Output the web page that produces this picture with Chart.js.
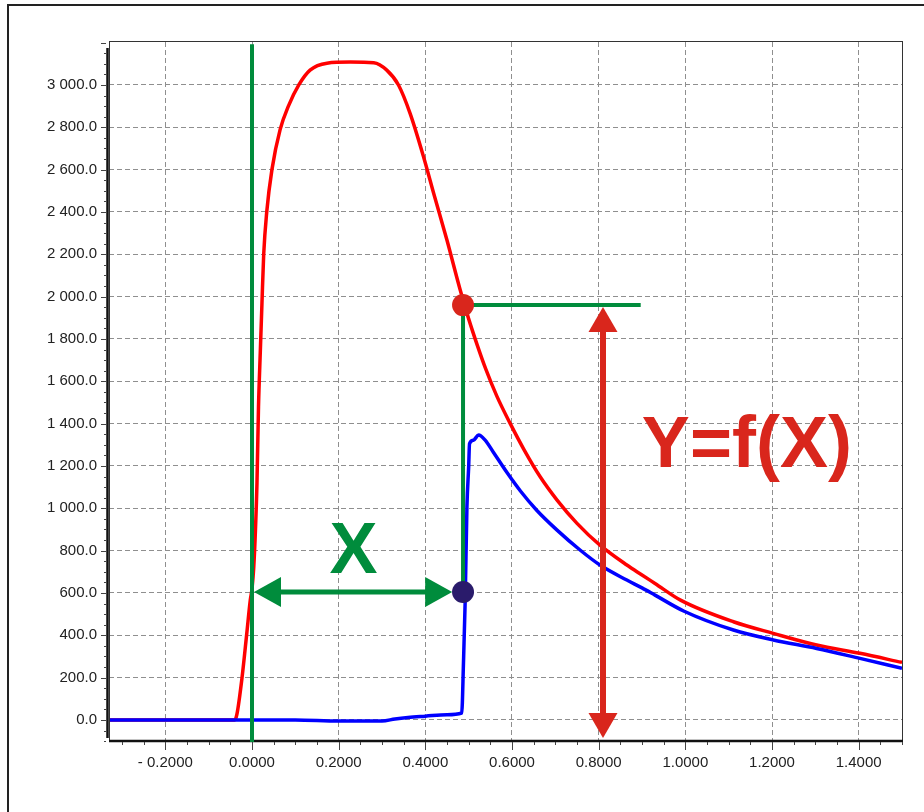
<!DOCTYPE html>
<html>
<head>
<meta charset="utf-8">
<script src="https://cdn.jsdelivr.net/npm/chart.js@4.4.1/dist/chart.umd.min.js"></script>
<style>
  html, body { margin: 0; padding: 0; background: #fff; }
  #wrap { position: relative; width: 924px; height: 812px; overflow: hidden; }
  #frame { position: absolute; left: 7px; top: 4px; width: 1000px; height: 900px;
           border-left: 2px solid #222; border-top: 2px solid #222; }
  canvas { position: absolute; left: 0; top: 0; }
</style>
</head>
<body>
<div id="wrap">
  <div id="frame"></div>
  <canvas id="myChart" width="924" height="812"></canvas>
</div>
<script>
// Axis ranges and ticks
const xMin = -0.33, xMax = 1.5;
const yMin = -104, yMax = 3203;
const xTicks = [-0.2, 0, 0.2, 0.4, 0.6, 0.8, 1.0, 1.2, 1.4];
const xTickLabels = ['- 0.2000', '0.0000', '0.2000', '0.4000', '0.6000', '0.8000', '1.0000', '1.2000', '1.4000'];
const yTicks = [0, 200, 400, 600, 800, 1000, 1200, 1400, 1600, 1800, 2000, 2200, 2400, 2600, 2800, 3000];
const yTickLabels = ['0.0', '200.0', '400.0', '600.0', '800.0', '1 000.0', '1 200.0', '1 400.0', '1 600.0',
                     '1 800.0', '2 000.0', '2 200.0', '2 400.0', '2 600.0', '2 800.0', '3 000.0'];
const xMinorStep = 0.05, yMinorStep = 50;

// Red trace
const redX = [-0.33, -0.1, -0.04, -0.035, -0.023, -0.012, -0.004, 0.0, 0.004, 0.008, 0.0115, 0.015, 0.019,
              0.023, 0.027, 0.034, 0.046, 0.065, 0.084, 0.108, 0.134, 0.173, 0.227, 0.281, 0.311, 0.338,
              0.365, 0.396, 0.419, 0.45, 0.48, 0.5, 0.52, 0.54, 0.565, 0.596, 0.627, 0.665, 0.704, 0.75,
              0.803, 0.865, 0.9, 0.93, 0.99, 1.111, 1.203, 1.303, 1.403, 1.5];
const redY = [0, 0, 0, 25, 200, 410, 566, 620, 720, 900, 1120, 1480, 1730,
              1970, 2200, 2400, 2600, 2790, 2900, 3000, 3070, 3103, 3108, 3105, 3070, 3000,
              2865, 2660, 2490, 2266, 2035, 1895, 1770, 1655, 1530, 1400, 1280, 1149, 1039, 929,
              826, 732, 685, 645, 565, 464, 409, 354, 315, 272];

// Blue trace
const blueX = [-0.33, 0.0, 0.1, 0.2, 0.3, 0.33, 0.36, 0.4, 0.45, 0.484, 0.488, 0.492, 0.496, 0.5, 0.502,
               0.511, 0.523, 0.538, 0.557, 0.588, 0.619, 0.657, 0.704, 0.757, 0.803, 0.865, 0.9, 0.93,
               0.996, 1.111, 1.203, 1.303, 1.403, 1.5];
const blueY = [0, 0, 0, -5, -5, 5, 12, 18, 25, 33, 270, 566, 1007, 1196, 1306,
               1322, 1346, 1322, 1265, 1170, 1083, 991, 897, 803, 732, 661, 624, 590,
               515, 425, 378, 338, 291, 244];

// Annotation anchors, in data units
const xStart = 0;          // green guide at X = 0
const guideTop = 3192;
const xMark = 0.487;       // where the blue trace jumps
const yMarkRed = 1960;     // red trace at xMark
const yMarkBlue = 605;     // blue trace at xMark
const hGuideEnd = 0.897;
const xArrowEnd = 0.462;
const yArrowX = 0.81;
const yArrowBottom = -85;
const xLabelAt = [0.234, 693];
const yLabelAt = [1.142, 1196];

const GREEN = '#008c3c';
const RED = '#d9261c';
const DARK = '#2a1b6b';
const FONT = "'Liberation Sans', Arial, sans-serif";

function toPoints(xs, ys) {
    return xs.map((x, i) => ({ x: x, y: ys[i] }));
}

function arrowHead(ctx, tx, ty, dx, dy, len, half, color) {
    // tip at (tx,ty), pointing along (dx,dy)
    const bx = tx - dx * len, by = ty - dy * len;
    ctx.fillStyle = color;
    ctx.beginPath();
    ctx.moveTo(tx, ty);
    ctx.lineTo(bx - dy * half, by + dx * half);
    ctx.lineTo(bx + dy * half, by - dx * half);
    ctx.closePath();
    ctx.fill();
}

const overlay = {
    id: 'overlay',
    afterDraw(chart) {
        const ctx = chart.ctx;
        const xs = chart.scales.x, ys = chart.scales.y;
        const a = chart.chartArea;
        const px = v => xs.getPixelForValue(v);
        const py = v => ys.getPixelForValue(v);
        ctx.save();

        // plot frame
        ctx.strokeStyle = '#333';
        ctx.lineWidth = 1;
        ctx.strokeRect(a.left + 0.5, a.top - 0.5, a.right - a.left, a.bottom - a.top);
        ctx.strokeStyle = '#111';
        ctx.lineWidth = 2.5;
        ctx.beginPath();
        ctx.moveTo(a.left, a.bottom - 1);
        ctx.lineTo(a.right + 1, a.bottom - 1);
        ctx.moveTo(a.left - 1.5, a.top + 6);
        ctx.lineTo(a.left - 1.5, a.bottom - 4);
        ctx.stroke();

        // major and minor tick marks
        ctx.strokeStyle = '#444';
        ctx.lineWidth = 1;
        ctx.beginPath();
        for (let k = Math.ceil(xMin / xMinorStep); k <= Math.floor(xMax / xMinorStep + 1e-9); k++) {
            const x = Math.round(px(k * xMinorStep)) + 0.5;
            const len = k % 4 === 0 ? 8 : 3;
            ctx.moveTo(x, a.bottom);
            ctx.lineTo(x, a.bottom + len);
        }
        for (let k = Math.ceil(yMin / yMinorStep); k <= Math.floor(yMax / yMinorStep); k++) {
            const y = Math.round(py(k * yMinorStep)) + 0.5;
            const len = k % 4 === 0 ? 5 : 2;
            ctx.moveTo(a.left - 3, y);
            ctx.lineTo(a.left - 3 - len, y);
        }
        ctx.stroke();

        // green guides
        ctx.strokeStyle = GREEN;
        ctx.lineWidth = 4;
        ctx.beginPath();
        ctx.moveTo(px(xStart), py(guideTop));
        ctx.lineTo(px(xStart), a.bottom);
        ctx.moveTo(px(xMark), py(yMarkRed));
        ctx.lineTo(px(xMark), py(yMarkBlue));
        ctx.moveTo(px(xMark), py(yMarkRed));
        ctx.lineTo(px(hGuideEnd), py(yMarkRed));
        ctx.stroke();

        // X double arrow
        const ay = py(yMarkBlue);
        const ax0 = px(xStart) + 2, ax1 = px(xArrowEnd);
        ctx.lineWidth = 5;
        ctx.beginPath();
        ctx.moveTo(ax0 + 20, ay);
        ctx.lineTo(ax1 - 20, ay);
        ctx.stroke();
        arrowHead(ctx, ax0, ay, -1, 0, 27, 15, GREEN);
        arrowHead(ctx, ax1, ay, 1, 0, 27, 15, GREEN);

        // Y double arrow
        const bx = px(yArrowX);
        const by0 = py(yMarkRed) + 2, by1 = py(yArrowBottom);
        ctx.strokeStyle = RED;
        ctx.lineWidth = 6;
        ctx.beginPath();
        ctx.moveTo(bx, by0 + 20);
        ctx.lineTo(bx, by1 - 20);
        ctx.stroke();
        arrowHead(ctx, bx, by0, 0, -1, 25, 14.5, RED);
        arrowHead(ctx, bx, by1, 0, 1, 25, 14.5, RED);

        // markers
        ctx.fillStyle = RED;
        ctx.beginPath();
        ctx.arc(px(xMark), py(yMarkRed), 11, 0, Math.PI * 2);
        ctx.fill();
        ctx.fillStyle = DARK;
        ctx.beginPath();
        ctx.arc(px(xMark), py(yMarkBlue), 11, 0, Math.PI * 2);
        ctx.fill();

        // labels
        ctx.textAlign = 'center';
        ctx.textBaseline = 'alphabetic';
        ctx.font = 'bold 72px ' + FONT;
        ctx.fillStyle = GREEN;
        ctx.fillText('X', px(xLabelAt[0]), py(xLabelAt[1]));
        ctx.fillStyle = RED;
        ctx.fillText('Y=f(X)', px(yLabelAt[0]), py(yLabelAt[1]));

        ctx.restore();
    }
};

function renderChart() {
    const ctx = document.getElementById('myChart').getContext('2d');
    new Chart(ctx, {
        type: 'line',
        data: {
            datasets: [{
                label: 'blue',
                data: toPoints(blueX, blueY),
                borderColor: '#0000ff',
                borderWidth: 3.5,
                pointRadius: 0,
                cubicInterpolationMode: 'monotone',
                order: 0
            }, {
                label: 'red',
                data: toPoints(redX, redY),
                borderColor: '#ff0000',
                borderWidth: 3.5,
                pointRadius: 0,
                cubicInterpolationMode: 'monotone',
                order: 1
            }]
        },
        options: {
            responsive: false,
            animation: false,
            layout: { padding: { top: 42, right: 22, left: 0, bottom: 0 } },
            plugins: { legend: { display: false }, tooltip: { enabled: false } },
            scales: {
                x: {
                    type: 'linear',
                    min: xMin,
                    max: xMax,
                    afterBuildTicks: s => { s.ticks = xTicks.map(v => ({ value: v })); },
                    afterFit: s => { s.height = 70; },
                    grid: { color: '#8f8f8f', lineWidth: 1, drawTicks: false },
                    border: { display: false, dash: [5, 3] },
                    ticks: {
                        autoSkip: false, maxRotation: 0, padding: 12, color: '#222',
                        font: { family: FONT, size: 15 },
                        callback: (v, i) => xTickLabels[i]
                    }
                },
                y: {
                    type: 'linear',
                    min: yMin,
                    max: yMax,
                    afterBuildTicks: s => { s.ticks = yTicks.map(v => ({ value: v })); },
                    afterFit: s => { s.width = 109; },
                    grid: { color: '#8f8f8f', lineWidth: 1, drawTicks: false },
                    border: { display: false, dash: [5, 3] },
                    ticks: {
                        autoSkip: false, padding: 12, color: '#222',
                        font: { family: FONT, size: 15 },
                        callback: (v, i) => yTickLabels[i]
                    }
                }
            }
        },
        plugins: [overlay]
    });
}

document.addEventListener('DOMContentLoaded', renderChart);
</script>
</body>
</html>
